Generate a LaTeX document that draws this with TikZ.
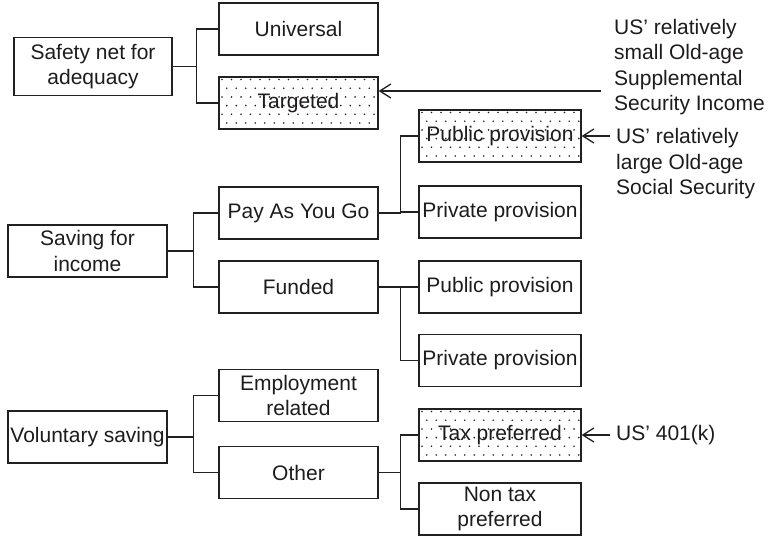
\documentclass[tikz,border=0pt]{standalone}
\usepackage{fontspec}
\setmainfont{Liberation Sans}
\usetikzlibrary{arrows.meta,calc}
\definecolor{txt}{RGB}{30,27,28}
\definecolor{ln}{RGB}{35,32,33}
\begin{document}
\begin{tikzpicture}[x=1pt,y=-1pt,
  every node/.style={font=\fontsize{21}{25.5}\selectfont, text=txt},
  box/.style={draw=ln, line width=1.3pt, rectangle, minimum height=52pt, inner sep=0pt, align=center},
  lone/.style={box, minimum width=159pt},
  ltwo/.style={box, minimum width=159pt},
  lthree/.style={box, minimum width=162pt},
  dotfill/.style={path picture={
    \foreach \i in {0,...,17}{
      \foreach \j in {0,...,6}{
        \fill[ln] ($(path picture bounding box.north west)+({3+\i*9.5+mod(\j,2)*4.75},{2.5+\j*8.7})$) circle (0.9);
      }
    }
  }},
  conn/.style={draw=ln, line width=1.3pt},
  arr/.style={conn, -{Straight Barb[length=11pt,width=14pt]}},
  ann/.style={anchor=west, align=left, inner sep=0pt}
]
\useasboundingbox (0,0) rectangle (773,536);

% level 1
\node[box, minimum width=158pt, minimum height=58pt] (safety) at (93,66.5) {Safety net for\\adequacy};
\node[lone] (saving) at (87.5,251) {Saving for\\income};
\node[lone] (vol) at (87.5,437) {Voluntary saving};

% level 2
\node[ltwo] (uni) at (298.5,29) {Universal};
\node[ltwo,dotfill] (tar) at (298.5,103) {Targeted};
\node[ltwo] (payg) at (298.5,213) {Pay As You Go};
\node[ltwo] (fund) at (298.5,287) {Funded};
\node[ltwo] (emp) at (298.5,395.5) {Employment\\related};
\node[ltwo] (oth) at (298.5,472.5) {Other};

% level 3
\node[lthree,dotfill] (pubA) at (500,136) {Public provision};
\node[lthree] (privA) at (500,212) {Private provision};
\node[lthree] (pubB) at (500,287) {Public provision};
\node[lthree] (privB) at (500,360.5) {Private provision};
\node[lthree,dotfill] (tax) at (500,435) {Tax preferred};
\node[lthree] (ntax) at (500,509) {Non tax\\preferred};

% connectors level 1 -> 2
\draw[conn] (safety.east) -- ++(24,0) coordinate (ja);
\draw[conn] (uni.west) -| (ja) |- (tar.west);
\draw[conn] (saving.east) -- ++(26,0) coordinate (jb);
\draw[conn] (payg.west) -| (jb) |- (fund.west);
\draw[conn] (vol.east) -- ++(26,0) coordinate (jc);
\draw[conn] (emp.west) -| (jc) |- (oth.west);

% connectors level 2 -> 3
\draw[conn] (payg.east) -- ++(22,0) coordinate (jd);
\draw[conn] (pubA.west) -| (jd) |- (privA.west);
\draw[conn] (fund.east) -- ++(22,0) coordinate (je);
\draw[conn] (pubB.west) -| (je) |- (privB.west);
\draw[conn] (oth.east) -- ++(22,0) coordinate (jf);
\draw[conn] (tax.west) -| (jf) |- (ntax.west);

% annotations
\node[ann] (tA) at (614,67) {US’ relatively\\small Old-age\\Supplemental\\Security Income};
\node[ann] (tB) at (616,164) {US’ relatively\\large Old-age\\Social Security};
\node[ann] (tC) at (616,435) {US’ 401(k)};
\coordinate (aA) at (601,91);
\coordinate (aB) at (610,136);
\coordinate (aC) at (610,435);
\draw[arr] (aA) -- (aA -| tar.east);
\draw[arr] (aB) -- (pubA.east);
\draw[arr] (aC) -- (tax.east);
\end{tikzpicture}
\end{document}
